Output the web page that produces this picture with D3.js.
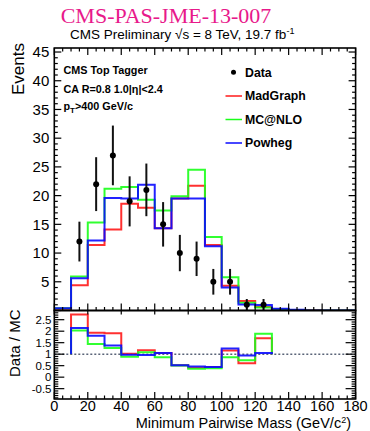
<!DOCTYPE html>
<html>
<head>
<meta charset="utf-8">
<script src="https://cdn.jsdelivr.net/npm/d3@7"></script>
<style>
  html, body { margin: 0; padding: 0; background: #fff; }
  svg { display: block; }
  text { font-family: "Liberation Sans", Arial, Helvetica, sans-serif; fill: #000; }
</style>
</head>
<body>
<svg id="chart" width="370" height="431"></svg>
<script>
// Lower edges of the 10 GeV mass bins
const binLow = [0, 10, 20, 30, 40, 50, 60, 70, 80, 90, 100, 110, 120, 130, 140, 150, 160, 170];
const binWidth = 10;

// Observed events per bin
const dataCounts = [0, 12, 22, 27, 19, 21, 15, 10, 9, 5, 5, 1, 1, 0, 0, 0, 0, 0];

// Simulated predictions per bin
const madgraph = [0.3, 4.4, 11.4, 14.1, 18.6, 17.9, 14.3, 19.5, 21.7, 11.4, 4.3, 1.64, 0.59, 0.2, 0.1, 0.1, 0, 0];
const mcatnlo  = [0.4, 5.9, 15.3, 21.2, 21.5, 19.3, 17.4, 19.9, 24.5, 12.8, 5.8, 1.35, 0.53, 0.2, 0.1, 0, 0, 0];
const powheg   = [0.4, 5.6, 12.2, 19.6, 19.5, 21.9, 14.3, 19.5, 19.5, 11.2, 4.0, 1.06, 0.95, 0.3, 0.15, 0, 0, 0];

const seriesNames = ["MadGraph", "MC@NLO", "Powheg"];
const seriesColors = ["#ff1a1a", "#1aff1a", "#0a0aff"];

// Axis ticks
const xMajorTicks = [0, 20, 40, 60, 80, 100, 120, 140, 160, 180];
const yMajorTicks = [5, 10, 15, 20, 25, 30, 35, 40, 45];
const ratioTicks = [-0.5, 0, 0.5, 1, 1.5, 2, 2.5];
const ratioTickLabels = ["-0.5", "0", "0.5", "1", "1.5", "2", "2.5"];

const legendLabels = ["Data", "MadGraph", "MC@NLO", "Powheg"];

const svg = d3.select("#chart");

const left = 54.3, right = 355.6;
const topY0 = 48, topY1 = 310.5;
const ratY0 = 310.5, ratY1 = 399;

const x = d3.scaleLinear().domain([0, 180]).range([left, right]);
const y = d3.scaleLinear().domain([0, 45.7]).range([topY1, topY0]);
const yr = d3.scaleLinear().domain([-0.95, 2.9]).range([ratY1, ratY0]);

// Clip regions
const defs = svg.append("defs");
defs.append("clipPath").attr("id", "clipTop").append("rect")
  .attr("x", left).attr("y", topY0).attr("width", right - left).attr("height", topY1 - topY0);
defs.append("clipPath").attr("id", "clipRat").append("rect")
  .attr("x", left).attr("y", ratY0).attr("width", right - left).attr("height", ratY1 - ratY0);

// Titles
svg.append("text")
  .attr("x", 166).attr("y", 23)
  .attr("text-anchor", "middle")
  .style("font-family", "'Liberation Serif', 'Times New Roman', serif")
  .style("font-size", "22px")
  .style("fill", "#e8198b")
  .text("CMS-PAS-JME-13-007");

const sub = svg.append("text")
  .attr("x", 70).attr("y", 39)
  .style("font-size", "13.5px");
sub.append("tspan").text("CMS Preliminary \u221As = 8 TeV, 19.7 fb");
sub.append("tspan").attr("dy", -5).style("font-size", "9px").text("-1");

// ---------- Top panel ----------
const topG = svg.append("g");
const line = d3.line().x(d => d[0]).y(d => d[1]);

function stepPoints(vals) {
  const pts = [[x(binLow[0]), y(0)]];
  vals.forEach((v, i) => {
    pts.push([x(binLow[i]), y(v)]);
    pts.push([x(binLow[i] + binWidth), y(v)]);
  });
  pts.push([x(binLow[binLow.length - 1] + binWidth), y(0)]);
  return pts;
}

const histG = topG.append("g").attr("clip-path", "url(#clipTop)");
[madgraph, mcatnlo, powheg].forEach((vals, k) => {
  histG.append("path")
    .attr("d", line(stepPoints(vals)))
    .attr("fill", "none")
    .attr("stroke", seriesColors[k])
    .attr("stroke-width", 2)
    .attr("stroke-opacity", 0.9);
});

// Data points with Poisson errors
const dataPts = binLow.map((lo, i) => ({ c: lo + binWidth / 2, n: dataCounts[i] }))
  .filter(d => d.n > 0);
const dataG = topG.append("g");
dataG.selectAll("line.err").data(dataPts).enter().append("line")
  .attr("x1", d => x(d.c)).attr("x2", d => x(d.c))
  .attr("y1", d => y(d.n + Math.sqrt(d.n))).attr("y2", d => y(Math.max(0, d.n - Math.sqrt(d.n))))
  .attr("stroke", "#111").attr("stroke-width", 2);
dataG.selectAll("circle").data(dataPts).enter().append("circle")
  .attr("cx", d => x(d.c)).attr("cy", d => y(d.n)).attr("r", 3)
  .attr("fill", "#000");

// Frame and ticks
function drawFrame(y0, y1) {
  svg.append("rect")
    .attr("x", left).attr("y", y0).attr("width", right - left).attr("height", y1 - y0)
    .attr("fill", "none").attr("stroke", "#000").attr("stroke-width", 1.6);
}

function xTicks(yPos, dir, len, vals) {
  const g = svg.append("g");
  g.selectAll("line").data(vals).enter().append("line")
    .attr("x1", d => x(d)).attr("x2", d => x(d))
    .attr("y1", yPos).attr("y2", yPos + dir * len)
    .attr("stroke", "#000").attr("stroke-width", 1.2);
}
function yTicks(scale, xPos, dir, len, vals) {
  const g = svg.append("g");
  g.selectAll("line").data(vals).enter().append("line")
    .attr("x1", xPos).attr("x2", xPos + dir * len)
    .attr("y1", d => scale(d)).attr("y2", d => scale(d))
    .attr("stroke", "#000").attr("stroke-width", 1.2);
}

const xMinor = d3.range(0, 181, 5).filter(v => v % 20 !== 0);
const yMinorTop = d3.range(1, 46, 1).filter(v => v % 5 !== 0);
const yMajorTopAll = [0].concat(yMajorTicks);
const ratioMinor = d3.range(-9, 29, 1).map(v => v / 10).filter(v => Math.abs(v * 2 - Math.round(v * 2)) > 1e-6);

// top panel ticks
xTicks(topY1, -1, 7, xMajorTicks);
xTicks(topY1, -1, 3.5, xMinor);
xTicks(topY0, 1, 7, xMajorTicks);
xTicks(topY0, 1, 3.5, xMinor);
yTicks(y, left, 1, 7, yMajorTopAll);
yTicks(y, left, 1, 3.5, yMinorTop);
yTicks(y, right, -1, 7, yMajorTopAll);
yTicks(y, right, -1, 3.5, yMinorTop);

// y labels top
const yAxisTop = d3.axisLeft(y).tickValues(yMajorTicks).tickSize(0).tickPadding(5);
const yAx = svg.append("g").attr("transform", `translate(${left},0)`).call(yAxisTop);
yAx.select(".domain").remove();
yAx.selectAll("text").style("font-family", "'Liberation Sans', Arial, sans-serif").style("font-size", "15px").attr("fill", "#222");

svg.append("text")
  .attr("transform", "translate(24,43) rotate(-90)")
  .attr("text-anchor", "end")
  .style("font-size", "17px")
  .text("Events");

// Text block
const info = svg.append("g").style("font-weight", "bold").style("font-size", "10.8px");
info.append("text").attr("x", 63.5).attr("y", 73.5).text("CMS Top Tagger");
info.append("text").attr("x", 63.5).attr("y", 93).text("CA R=0.8 1.0|\u03b7|<2.4");
const pt = info.append("text").attr("x", 63.5).attr("y", 109.5);
pt.append("tspan").text("p");
pt.append("tspan").attr("dy", 3).style("font-size", "8px").text("T");
pt.append("tspan").attr("dy", -3).text(">400 GeV/c");

// Legend
const legY = [76.5, 100, 123.5, 147];
const legG = svg.append("g").style("font-weight", "bold").style("font-size", "12.3px");
legendLabels.forEach((lab, i) => {
  const yy = legY[i];
  if (i === 0) {
    legG.append("circle").attr("cx", 233.5).attr("cy", yy - 4.2).attr("r", 2.5).attr("fill", "#000");
  } else {
    legG.append("line").attr("x1", 225.5).attr("x2", 242)
      .attr("y1", yy - 4).attr("y2", yy - 4)
      .attr("stroke", seriesColors[i - 1]).attr("stroke-width", 1.5);
  }
  legG.append("text").attr("x", 245).attr("y", yy).text(lab);
});

drawFrame(topY0, topY1);

// ---------- Ratio panel ----------
const ratG = svg.append("g").attr("clip-path", "url(#clipRat)");
ratG.append("line")
  .attr("x1", left).attr("x2", right).attr("y1", yr(1)).attr("y2", yr(1))
  .attr("stroke", "#5a6478").attr("stroke-width", 1.5).attr("stroke-dasharray", "2,2");

const filled = binLow.map((lo, i) => i).filter(i => dataCounts[i] > 0);
const firstBin = filled[0], lastBin = filled[filled.length - 1];
[madgraph, mcatnlo, powheg].forEach((vals, k) => {
  const pts = [[x(binLow[firstBin]), yr(1)]];
  for (let i = firstBin; i <= lastBin; i++) {
    const r = dataCounts[i] / vals[i];
    pts.push([x(binLow[i]), yr(r)]);
    pts.push([x(binLow[i] + binWidth), yr(r)]);
  }
  pts.push([x(binLow[lastBin] + binWidth), yr(1)]);
  ratG.append("path")
    .attr("d", line(pts))
    .attr("fill", "none")
    .attr("stroke", seriesColors[k])
    .attr("stroke-width", 2)
    .attr("stroke-opacity", 0.9);
});

xTicks(ratY1, -1, 7, xMajorTicks);
xTicks(ratY1, -1, 3.5, xMinor);
xTicks(ratY0, 1, 4, xMajorTicks);
yTicks(yr, left, 1, 10, ratioTicks);
yTicks(yr, left, 1, 4, ratioMinor);
yTicks(yr, right, -1, 10, ratioTicks);
yTicks(yr, right, -1, 4, ratioMinor);

// ratio labels sit on 0.5 steps, so they are kept compact to stay apart
svg.append("g").selectAll("text").data(ratioTicks).enter().append("text")
  .attr("x", 51.5).attr("y", d => yr(d) + 4)
  .attr("text-anchor", "end")
  .style("font-size", "11.5px").attr("fill", "#222")
  .text((d, i) => ratioTickLabels[i]);

svg.append("g").selectAll("text").data(xMajorTicks).enter().append("text")
  .attr("x", d => x(d)).attr("y", 411)
  .attr("text-anchor", "middle")
  .style("font-size", "14.5px").attr("fill", "#222")
  .text(d => d);

svg.append("text")
  .attr("transform", "translate(20,377) rotate(-90)")
  .attr("text-anchor", "start")
  .style("font-size", "15px")
  .text("Data / MC");

const xl = svg.append("text")
  .attr("x", 351).attr("y", 427.5)
  .attr("text-anchor", "end")
  .style("font-size", "14.5px");
xl.append("tspan").text("Minimum Pairwise Mass (GeV/c");
xl.append("tspan").attr("dy", -5).style("font-size", "9px").text("2");
xl.append("tspan").attr("dy", 5).text(")");

drawFrame(ratY0, ratY1);
</script>
</body>
</html>
